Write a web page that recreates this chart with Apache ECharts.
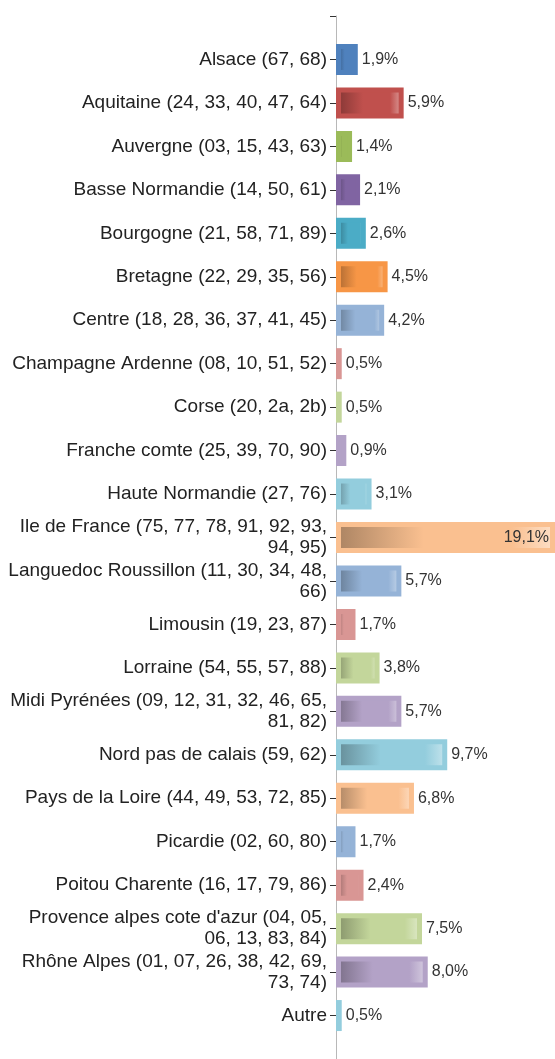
<!DOCTYPE html>
<html lang="fr">
<head>
<meta charset="UTF-8">
<title>Répartition par région</title>
<script src="https://cdn.jsdelivr.net/npm/echarts@6/dist/echarts.min.js"></script>
<style>
    html, body { margin: 0; padding: 0; background: #fff; }
    #chart { width: 555px; height: 1059px; }
</style>
</head>
<body>
<div id="chart"></div>
<script>
    // régions (les retours à la ligne reprennent ceux de l'original)
    var regions = [
        'Alsace (67, 68)',
        'Aquitaine (24, 33, 40, 47, 64)',
        'Auvergne (03, 15, 43, 63)',
        'Basse Normandie (14, 50, 61)',
        'Bourgogne (21, 58, 71, 89)',
        'Bretagne (22, 29, 35, 56)',
        'Centre (18, 28, 36, 37, 41, 45)',
        'Champagne Ardenne (08, 10, 51, 52)',
        'Corse (20, 2a, 2b)',
        'Franche comte (25, 39, 70, 90)',
        'Haute Normandie (27, 76)',
        'Ile de France (75, 77, 78, 91, 92, 93,\n94, 95)',
        'Languedoc Roussillon (11, 30, 34, 48,\n66)',
        'Limousin (19, 23, 87)',
        'Lorraine (54, 55, 57, 88)',
        'Midi Pyrénées (09, 12, 31, 32, 46, 65,\n81, 82)',
        'Nord pas de calais (59, 62)',
        'Pays de la Loire (44, 49, 53, 72, 85)',
        'Picardie (02, 60, 80)',
        'Poitou Charente (16, 17, 79, 86)',
        'Provence alpes cote d\'azur (04, 05,\n06, 13, 83, 84)',
        'Rhône Alpes (01, 07, 26, 38, 42, 69,\n73, 74)',
        'Autre'
    ];

    // part de chaque région en %
    var parts = [1.9, 5.9, 1.4, 2.1, 2.6, 4.5, 4.2, 0.5, 0.5, 0.9, 3.1, 19.1,
        5.7, 1.7, 3.8, 5.7, 9.7, 6.8, 1.7, 2.4, 7.5, 8.0, 0.5];

    // couleurs façon office : les 6 franches puis les 6 claires en boucle
    var baseColors = ['#4F81BD', '#C0504D', '#9BBB59', '#8064A2', '#4BACC6', '#F79646'];
    var lightColors = ['#95B3D7', '#D99694', '#C3D69B', '#B3A2C7', '#93CDDD', '#FAC090'];

    function pickColor(i) {
        return i < baseColors.length ? baseColors[i] : lightColors[(i - baseColors.length) % lightColors.length];
    }

    // mélange une couleur hex avec du noir (t<0) ou du blanc (t>0)
    function shade(hex, t) {
        var n = parseInt(hex.slice(1), 16);
        var c = [(n >> 16) & 255, (n >> 8) & 255, n & 255];
        var target = t < 0 ? 0 : 255;
        var k = Math.abs(t);
        c = c.map(function (v) { return Math.round(v + (target - v) * k); });
        return 'rgb(' + c.join(',') + ')';
    }

    var maxPart = Math.max.apply(null, parts);

    var barData = ['-'];
    for (var i = 0; i < parts.length; i++) {
        var col = pickColor(i);
        var item = {
            value: parts[i],
            itemStyle: {
                borderColor: col,
                borderWidth: 5,
                color: new echarts.graphic.LinearGradient(0, 0, 1, 0, [
                    { offset: 0, color: shade(col, -0.32) },
                    { offset: 0.4, color: col },
                    { offset: 0.8, color: col },
                    { offset: 1, color: shade(col, 0.5) }
                ])
            }
        };
        // la plus grande barre porte son étiquette à l'intérieur
        if (parts[i] === maxPart) {
            item.label = { position: 'insideRight', distance: 6 };
        }
        barData.push(item);
    }
    barData.push('-');

    var myChart = echarts.init(document.getElementById('chart'));

    var option = {
        animation: false,
        grid: {
            left: 336,
            right: 0,
            top: 16,
            bottom: -6
        },
        xAxis: {
            type: 'value',
            min: 0,
            max: maxPart,
            show: false
        },
        yAxis: {
            type: 'category',
            inverse: true,
            boundaryGap: false,
            // une case vide en haut et en bas pour prolonger l'axe
            data: [''].concat(regions, ['']),
            axisLine: { lineStyle: { color: '#b8b8b8', width: 1 } },
            axisTick: { length: 6, lineStyle: { color: '#333' } },
            axisLabel: {
                interval: 0,
                margin: 9,
                color: '#222',
                fontFamily: 'Liberation Sans',
                fontSize: 19,
                lineHeight: 21
            },
            splitLine: { show: false }
        },
        series: [
            {
                type: 'bar',
                barWidth: 31,
                label: {
                    show: true,
                    position: 'right',
                    distance: 4,
                    color: '#333',
                    fontFamily: 'Liberation Sans',
                    fontSize: 16,
                    formatter: function (p) {
                        return p.value.toFixed(1).replace('.', ',') + '%';
                    }
                },
                data: barData
            }
        ]
    };

    myChart.setOption(option);
</script>
</body>
</html>
